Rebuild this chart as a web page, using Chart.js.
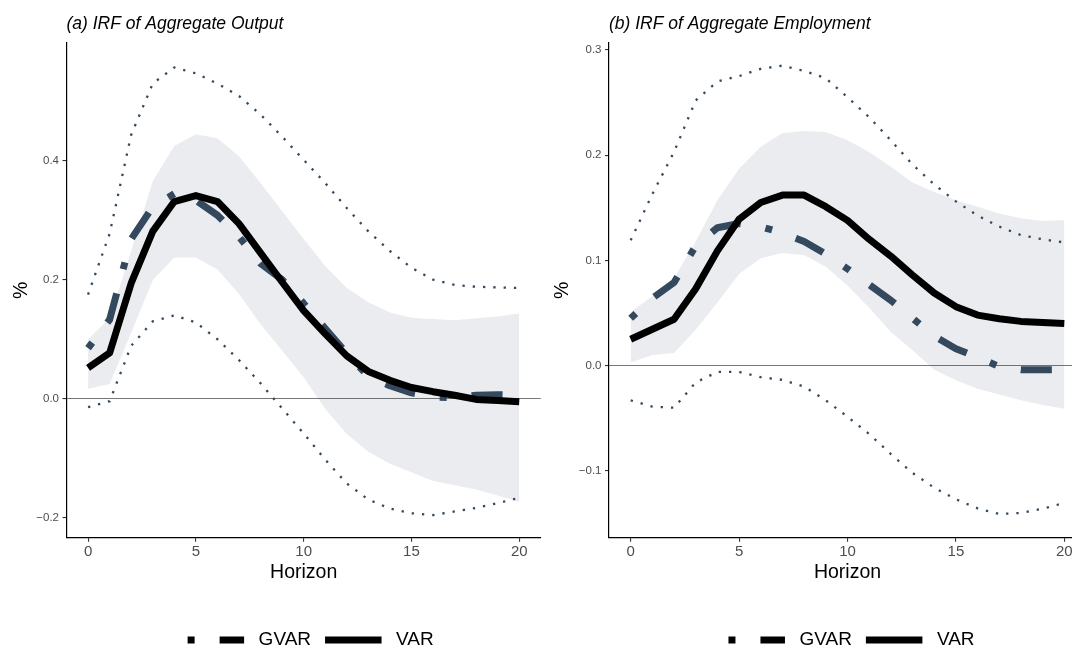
<!DOCTYPE html>
<html>
<head>
<meta charset="utf-8">
<script src="https://cdn.jsdelivr.net/npm/chart.js@4.4.1/dist/chart.umd.min.js"></script>
<style>
  html, body { margin: 0; padding: 0; background: #ffffff; width: 1072px; height: 648px; overflow: hidden; }
  #stage { position: relative; width: 1072px; height: 648px; overflow: hidden; }
  #wrapA { position: absolute; left: 0; top: 0; width: 545px; height: 648px; }
  #wrapB { position: absolute; left: 536px; top: 0; width: 536px; height: 648px; overflow: hidden; }
  canvas { display: block; }
</style>
</head>
<body>
<div id="stage">
  <div id="wrapA"><canvas id="cA" width="545" height="648"></canvas></div>
  <div id="wrapB"><canvas id="cB" width="560" height="648"></canvas></div>
</div>
<script>
// ---------- data ----------
const horizon = [0, 1, 2, 3, 4, 5, 6, 7, 8, 9, 10, 11, 12, 13, 14, 15, 16, 17, 18, 19, 20];
const xTicks = [0, 5, 10, 15, 20];

// (a) Aggregate Output
const outputVAR    = [0.052, 0.077, 0.194, 0.281, 0.331, 0.341, 0.331, 0.294, 0.245, 0.196, 0.148, 0.109, 0.072, 0.046, 0.031, 0.019, 0.012, 0.006, -0.001, -0.003, -0.005];
const outputGVAR   = [0.085, 0.133, 0.268, 0.322, 0.344, 0.333, 0.308, 0.272, 0.227, 0.200, 0.160, 0.118, 0.076, 0.038, 0.022, 0.010, 0.003, 0.002, 0.006, 0.007, 0.006];
const outputBandLo = [0.017, 0.025, 0.111, 0.199, 0.237, 0.237, 0.217, 0.176, 0.125, 0.081, 0.036, -0.017, -0.059, -0.089, -0.109, -0.123, -0.138, -0.145, -0.152, -0.162, -0.173];
const outputBandHi = [0.100, 0.135, 0.248, 0.365, 0.424, 0.444, 0.437, 0.407, 0.362, 0.315, 0.268, 0.223, 0.186, 0.162, 0.145, 0.136, 0.134, 0.132, 0.135, 0.138, 0.143];
const outputDotHi  = [0.175, 0.277, 0.443, 0.529, 0.556, 0.546, 0.529, 0.508, 0.477, 0.440, 0.401, 0.362, 0.320, 0.281, 0.248, 0.220, 0.200, 0.191, 0.188, 0.187, 0.186];
const outputDotLo  = [-0.014, -0.004, 0.089, 0.130, 0.140, 0.128, 0.100, 0.065, 0.026, -0.016, -0.058, -0.102, -0.142, -0.169, -0.184, -0.192, -0.195, -0.189, -0.183, -0.175, -0.166];
const outputYTicks = [-0.2, 0.0, 0.2, 0.4];

// (b) Aggregate Employment
const employVAR    = [0.025, 0.0345, 0.044, 0.073, 0.109, 0.139, 0.155, 0.162, 0.162, 0.151, 0.138, 0.120, 0.104, 0.086, 0.069, 0.056, 0.048, 0.0445, 0.042, 0.041, 0.040];
const employGVAR   = [0.045, 0.064, 0.079, 0.114, 0.131, 0.135, 0.132, 0.126, 0.118, 0.106, 0.092, 0.077, 0.062, 0.045, 0.028, 0.016, 0.008, -0.001, -0.004, -0.004, -0.004];
const employBandLo = [0.003, 0.010, 0.012, 0.034, 0.060, 0.087, 0.102, 0.107, 0.105, 0.094, 0.076, 0.055, 0.032, 0.0145, -0.004, -0.014, -0.022, -0.0275, -0.033, -0.0375, -0.041];
const employBandHi = [0.051, 0.066, 0.083, 0.118, 0.157, 0.187, 0.208, 0.221, 0.223, 0.222, 0.214, 0.203, 0.189, 0.174, 0.165, 0.157, 0.151, 0.1445, 0.140, 0.1375, 0.138];
const employDotHi  = [0.119, 0.163, 0.203, 0.252, 0.270, 0.275, 0.282, 0.285, 0.280, 0.273, 0.255, 0.236, 0.214, 0.191, 0.172, 0.156, 0.1425, 0.132, 0.124, 0.120, 0.117];
const employDotLo  = [-0.033, -0.039, -0.040, -0.016, -0.006, -0.006, -0.011, -0.0135, -0.020, -0.033, -0.0486, -0.065, -0.084, -0.102, -0.116, -0.127, -0.1356, -0.141, -0.140, -0.136, -0.1305];
const employYTicks = [-0.1, 0.0, 0.1, 0.2, 0.3];

const seriesNames = ['VAR', 'GVAR'];

// ---------- styling ----------
const FONT = "'Liberation Sans', Arial, Helvetica, sans-serif";
Chart.defaults.font.family = FONT;
const SLATE = '#34495e';
const GVAR_DASH = [7, 25, 31, 25];
const DOT_DASH = [2.3, 8];

function pts(vals) { return vals.map((v, i) => ({ x: horizon[i], y: v })); }
function fmtY(v) { return (v < 0 ? '\u2212' : '') + Math.abs(v).toFixed(1); }

const keyLegend = {
  id: 'keyLegend',
  afterDraw(chart, args, opts) {
    const ctx = chart.ctx, ca = chart.chartArea;
    ctx.save();
    ctx.font = opts.fontSize + 'px ' + FONT;
    const items = opts.items;
    let total = 0;
    items.forEach((it, i) => {
      total += opts.keyWidth + opts.textGap + ctx.measureText(it.label).width;
      if (i < items.length - 1) total += opts.itemGap;
    });
    let x = (ca.left + ca.right) / 2 + opts.shift - total / 2;
    const y = chart.height - opts.bottom;
    items.forEach(it => {
      ctx.beginPath();
      ctx.setLineDash(it.dash);
      ctx.lineCap = 'butt';
      ctx.lineWidth = opts.lineWidth;
      ctx.strokeStyle = '#000';
      ctx.moveTo(x, y);
      ctx.lineTo(x + opts.keyWidth, y);
      ctx.stroke();
      x += opts.keyWidth + opts.textGap;
      ctx.setLineDash([]);
      ctx.fillStyle = '#000';
      ctx.textBaseline = 'middle';
      ctx.textAlign = 'left';
      ctx.fillText(it.label, x, y);
      x += ctx.measureText(it.label).width + opts.itemGap;
    });
    ctx.restore();
  }
};

function makeChart(canvasId, p) {
  const datasets = [
    { label: seriesNames[0], data: pts(p.varVals), borderColor: '#000000', borderWidth: 7,
      borderCapStyle: 'butt', borderJoinStyle: 'round', pointRadius: 0, fill: false, tension: 0 },
    { label: seriesNames[1], data: pts(p.gvarVals), borderColor: SLATE, borderWidth: 7, borderDash: GVAR_DASH,
      borderCapStyle: 'butt', borderJoinStyle: 'round', pointRadius: 0, fill: false, tension: 0 },
    { label: 'upper', data: pts(p.dotHi), borderColor: SLATE, borderWidth: 2.3, borderDash: DOT_DASH,
      borderCapStyle: 'butt', pointRadius: 0, fill: false, tension: 0 },
    { label: 'lower', data: pts(p.dotLo), borderColor: SLATE, borderWidth: 2.3, borderDash: DOT_DASH,
      borderCapStyle: 'butt', pointRadius: 0, fill: false, tension: 0 },
    { label: 'bandLo', data: pts(p.bandLo), borderColor: 'rgba(0,0,0,0)', borderWidth: 0, pointRadius: 0, fill: false, tension: 0 },
    { label: 'bandHi', data: pts(p.bandHi), borderColor: 'rgba(0,0,0,0)', borderWidth: 0, pointRadius: 0,
      fill: '-1', backgroundColor: 'rgba(52,73,94,0.1)', tension: 0 }
  ];
  return new Chart(document.getElementById(canvasId), {
    type: 'line',
    data: { datasets },
    plugins: [keyLegend],
    options: {
      responsive: false,
      animation: false,
      layout: { padding: { left: 6, right: p.padRight, top: 0, bottom: 60.3 } },
      plugins: {
        legend: { display: false },
        tooltip: { enabled: false },
        filler: { drawTime: 'beforeDatasetsDraw' },
        title: {
          display: true, text: p.title, align: 'start', fullSize: false, color: '#000',
          font: { size: 17.5, style: 'italic', weight: 'normal', lineHeight: 1.2 },
          padding: { top: 14, bottom: 8 }
        },
        keyLegend: {
          items: [
            { label: seriesNames[1], dash: GVAR_DASH },
            { label: seriesNames[0], dash: [] }
          ],
          fontSize: 19, keyWidth: 56.5, textGap: 14.5, itemGap: 14, lineWidth: 7,
          bottom: 8, shift: p.legendShift
        }
      },
      scales: {
        x: {
          type: 'linear', min: -1, max: 21,
          afterBuildTicks: s => { s.ticks = xTicks.map(v => ({ value: v })); },
          afterFit: s => { s.height = 50; },
          ticks: { color: '#4d4d4d', font: { size: 15 }, padding: 1, autoSkip: false, maxRotation: 0,
                   callback: v => String(v) },
          grid: { drawOnChartArea: false, tickLength: 4, tickColor: '#333333', lineWidth: 1.1 },
          border: { display: true, color: '#000000', width: 1.2 },
          title: { display: true, text: 'Horizon', color: '#000', font: { size: 19.5 }, padding: { top: 0, bottom: 3.3 } }
        },
        y: {
          type: 'linear', min: p.yMin, max: p.yMax,
          afterBuildTicks: s => { s.ticks = p.yTicks.map(v => ({ value: v })); },
          afterFit: s => { s.width = p.yWidth; },
          ticks: { color: '#4d4d4d', font: { size: 11.5 }, padding: 3.5, callback: v => fmtY(v) },
          grid: {
            drawOnChartArea: true, tickLength: 4, tickColor: '#333333', lineWidth: 1.1,
            color: c => (c.tick && c.tick.value === 0) ? '#777777' : 'rgba(0,0,0,0)'
          },
          border: { display: true, color: '#000000', width: 1.2 },
          title: { display: true, text: '%', color: '#000', font: { size: 19.5 }, padding: { top: p.yTitlePad, bottom: 0 } }
        }
      }
    }
  });
}

makeChart('cA', {
  title: '(a) IRF of Aggregate Output',
  varVals: outputVAR, gvarVals: outputGVAR, bandLo: outputBandLo, bandHi: outputBandHi,
  dotHi: outputDotHi, dotLo: outputDotLo, yTicks: outputYTicks,
  yMin: -0.233, yMax: 0.597, yWidth: 60.5, yTitlePad: 3.8, padRight: 4.2, legendShift: 7
});
makeChart('cB', {
  title: '(b) IRF of Aggregate Employment',
  varVals: employVAR, gvarVals: employGVAR, bandLo: employBandLo, bandHi: employBandHi,
  dotHi: employDotHi, dotLo: employDotLo, yTicks: employYTicks,
  yMin: -0.1635, yMax: 0.3065, yWidth: 67, yTitlePad: 9, padRight: 10, legendShift: 4
});
</script>
</body>
</html>
